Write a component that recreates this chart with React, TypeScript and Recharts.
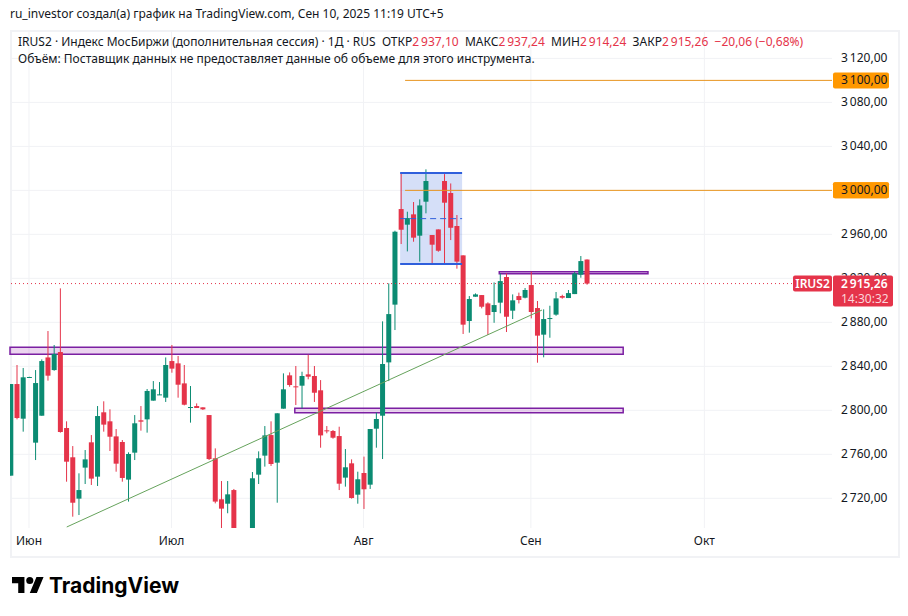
import { Bar, CartesianGrid, ComposedChart, ReferenceArea, ReferenceLine, XAxis, YAxis } from "recharts";

const RED = "#e5344a";
const GREEN = "#0b8b72";
const ORANGE = "#ff9800";
const PURPLE = "#7b1fa2";
const BLUE = "#2f5fdc";
const FONT = "'Noto Sans', sans-serif";

const opens = [
  2740.6, 2823.9, 2792.4, 2829.7, 2770.6, 2795.1, 2848.1, 2836.6, 2853.0, 2783.9,
  2757.3, 2719.7, 2747.9, 2770.9, 2739.7, 2798.2, 2790.0, 2776.3, 2771.2, 2737.0,
  2761.5, 2790.9, 2791.8, 2808.8, 2813.9, 2811.5, 2844.8, 2842.7, 2824.5, 2802.4,
  2803.9, 2802.7, 2795.7, 2756.4, 2719.1, 2715.1, 2727.5, 2686.0, 2670.0, 2688.0,
  2741.5, 2758.8, 2777.5, 2752.4, 2801.5, 2831.8, 2821.8, 2822.4, 2832.7, 2831.2,
  2818.2, 2781.8, 2781.2, 2776.6, 2738.8, 2751.8, 2723.3, 2743.0, 2732.4, 2783.3,
  2795.1, 2843.6, 2896.1, 2983.0, 2968.8, 2978.2, 2958.8, 2989.7, 2959.4, 2964.5,
  3008.5, 2997.6, 2967.6, 2940.9, 2881.2, 2903.3, 2904.8, 2897.2, 2889.4, 2897.9,
  2921.2, 2890.6, 2903.9, 2902.4, 2913.9, 2893.0, 2868.8, 2883.3, 2887.0, 2903.9,
  2902.1, 2905.7, 2923.3, 2937.1,
];
const highs = [
  2823.9, 2841.2, 2838.5, 2830.5, 2836.6, 2846.3, 2872.1, 2859.4, 2910.9, 2790.0,
  2767.5, 2742.7, 2763.9, 2777.5, 2803.9, 2808.2, 2800.9, 2783.0, 2773.0, 2761.8,
  2795.7, 2803.9, 2819.4, 2826.6, 2825.7, 2848.1, 2859.4, 2849.4, 2841.2, 2822.1,
  2806.3, 2802.7, 2795.7, 2765.4, 2735.7, 2735.7, 2728.5, 2690.0, 2688.0, 2743.9,
  2762.7, 2785.7, 2790.0, 2797.3, 2833.6, 2834.5, 2840.3, 2835.1, 2850.6, 2840.3,
  2827.5, 2785.7, 2782.1, 2785.1, 2764.8, 2755.4, 2744.2, 2757.9, 2783.0, 2797.9,
  2880.9, 2915.4, 2963.3, 3015.4, 2980.6, 2989.4, 2991.8, 3019.1, 2959.4, 2964.5,
  3014.8, 3006.3, 2977.6, 2940.9, 2903.9, 2906.3, 2904.8, 2898.2, 2916.3, 2924.5,
  2924.5, 2905.4, 2907.0, 2911.2, 2926.0, 2899.4, 2891.8, 2895.1, 2907.6, 2905.1,
  2909.4, 2926.0, 2940.3, 2937.24,
];
const lows = [
  2740.6, 2791.8, 2780.6, 2829.5, 2754.8, 2795.1, 2827.0, 2836.0, 2779.7, 2735.1,
  2703.3, 2704.8, 2733.0, 2732.1, 2731.2, 2780.6, 2763.0, 2744.2, 2735.1, 2717.0,
  2754.8, 2781.5, 2779.7, 2808.8, 2813.9, 2807.6, 2834.2, 2811.5, 2804.5, 2788.8,
  2802.1, 2800.3, 2754.8, 2715.4, 2688.2, 2706.4, 2679.0, 2668.0, 2664.0, 2685.0,
  2733.0, 2748.8, 2749.4, 2716.0, 2801.5, 2821.4, 2804.8, 2801.8, 2828.2, 2807.6,
  2766.0, 2779.1, 2774.2, 2727.5, 2730.6, 2719.7, 2715.1, 2710.3, 2728.5, 2766.0,
  2755.7, 2826.6, 2873.0, 2951.2, 2944.5, 2953.3, 2935.2, 2979.1, 2933.6, 2944.2,
  2933.6, 2954.8, 2928.8, 2869.4, 2870.6, 2903.3, 2892.7, 2868.5, 2879.6, 2888.2,
  2871.2, 2883.0, 2897.2, 2901.8, 2883.6, 2843.3, 2848.2, 2866.0, 2886.0, 2901.5,
  2902.1, 2905.7, 2920.6, 2914.24,
];
const closes = [
  2823.9, 2793.0, 2830.0, 2830.3, 2824.8, 2844.8, 2831.5, 2851.2, 2780.3, 2753.3,
  2716.0, 2727.5, 2755.4, 2737.9, 2794.8, 2787.0, 2776.0, 2751.5, 2738.5, 2760.3,
  2788.2, 2789.7, 2817.6, 2819.1, 2814.5, 2841.2, 2837.9, 2823.3, 2805.1, 2803.0,
  2802.1, 2800.9, 2755.7, 2717.0, 2710.6, 2723.6, 2688.0, 2672.0, 2683.0, 2738.2,
  2756.4, 2777.2, 2751.2, 2797.3, 2819.1, 2823.0, 2821.2, 2831.2, 2830.6, 2816.0,
  2777.2, 2781.2, 2775.1, 2733.3, 2748.2, 2720.3, 2737.3, 2728.2, 2783.0, 2792.1,
  2842.1, 2887.5, 2962.4, 2964.2, 2974.8, 2957.0, 2986.3, 3008.5, 2950.6, 2945.1,
  2988.8, 2966.0, 2935.2, 2877.9, 2901.2, 2905.4, 2894.2, 2886.6, 2895.7, 2917.5,
  2885.1, 2900.0, 2900.3, 2909.4, 2889.4, 2867.9, 2883.0, 2883.9, 2901.8, 2902.4,
  2906.6, 2924.5, 2935.7, 2915.26,
];

const monthTicks = [3, 26, 57, 84, 112];
const monthLabels = ["Июн", "Июл", "Авг", "Сен", "Окт"];
const priceGrid = [3120, 3080, 3040, 3000, 2960, 2920, 2880, 2840, 2800, 2760, 2720];
const lastPrice = 2915.26;
// tagged prices go last so their boxes sit above the plain labels
const priceTicks = [...priceGrid, 3100, 3000, lastPrice];

const candles = opens.map((open, i) => ({
  i,
  open,
  high: highs[i],
  low: lows[i],
  close: closes[i],
  range: [lows[i], highs[i]],
}));

const fmtPrice = (v: number) => {
  const s = v.toFixed(2).replace(".", ",");
  return s[0] + "\u2009" + s.slice(1);
};

function Candle(props: any) {
  const { x, y, width, height, payload } = props;
  const { open, high, low, close } = payload;
  const color = close >= open ? GREEN : RED;
  const k = height / (high - low);
  const top = y + (high - Math.max(open, close)) * k;
  const bodyH = Math.max(Math.abs(open - close) * k, 1);
  const mid = x + width / 2;
  return (
    <g>
      <line x1={mid} x2={mid} y1={y} y2={y + height} stroke={color} strokeWidth={1} />
      <rect x={x} y={top} width={width} height={bodyH} fill={color} />
    </g>
  );
}

function PriceTick(props: any) {
  const { x, y, payload } = props;
  const v = payload.value;
  const label = { fontFamily: FONT, fontSize: 12 };
  if (v === lastPrice) {
    return (
      <g>
        <rect x={x - 39} y={y - 8} width={39} height={16} rx={2} fill={RED} />
        <text x={x - 19.5} y={y + 4} textAnchor="middle" fill="#fff" fontWeight={600} {...label}>IRUS2</text>
        <rect x={x + 1} y={y - 8} width={60} height={31} rx={2} fill={RED} />
        <text x={x + 9} y={y + 4} fill="#fff" fontWeight={600} {...label}>{fmtPrice(v)}</text>
        <text x={x + 9} y={y + 19} fill="#fbd5da" {...label}>14:30:32</text>
      </g>
    );
  }
  if (v === 3100 || v === 3000) {
    return (
      <g>
        <rect x={x + 1} y={y - 8} width={56} height={16} rx={2} fill={ORANGE} />
        <text x={x + 9} y={y + 4} fill="#131722" {...label}>{fmtPrice(v)}</text>
      </g>
    );
  }
  return <text x={x + 9} y={y + 4} fill="#131722" {...label}>{fmtPrice(v)}</text>;
}

export default function App() {
  const val = { color: RED };
  return (
    <div style={{ position: "absolute", left: 0, top: 0, width: 908, height: 616, background: "#fff", fontFamily: FONT, color: "#131722", overflow: "hidden" }}>
      <div style={{ position: "absolute", left: 10, top: 30, width: 886, height: 524, border: "2px solid #f1f2f5" }} />
      <ComposedChart
        width={908}
        height={616}
        data={candles}
        margin={{ top: 32, right: 0, bottom: 61, left: 10 }}
        style={{ position: "absolute", left: 0, top: 0 }}
      >
        <CartesianGrid stroke="#f1f2f5" horizontalValues={priceGrid} verticalValues={monthTicks} />
        <XAxis
          dataKey="i"
          type="number"
          domain={[-0.065, 132.6]}
          allowDataOverflow
          ticks={monthTicks}
          interval={0}
          tickFormatter={(v) => monthLabels[monthTicks.indexOf(v)]}
          axisLine={false}
          tickLine={false}
          tickSize={0}
          tickMargin={8}
          height={27}
          tick={{ fill: "#131722", fontSize: 12, fontFamily: FONT }}
        />
        <YAxis
          orientation="right"
          type="number"
          domain={[2693, 3144]}
          allowDataOverflow
          ticks={priceTicks}
          interval={0}
          axisLine={false}
          tickLine={false}
          tickSize={0}
          tickMargin={0}
          width={76}
          tick={PriceTick}
        />
        <ReferenceArea x1={62.9} x2={72.9} y1={2933} y2={3015.7} fill={BLUE} fillOpacity={0.2} />
        <Bar dataKey="range" barSize={5} shape={Candle} isAnimationActive={false} />
        <ReferenceLine segment={[{ x: 62.9, y: 3015.7 }, { x: 72.9, y: 3015.7 }]} stroke={BLUE} strokeWidth={2} />
        <ReferenceLine segment={[{ x: 62.9, y: 2933 }, { x: 72.9, y: 2933 }]} stroke={BLUE} strokeWidth={2} />
        <ReferenceLine segment={[{ x: 62.9, y: 2974.3 }, { x: 72.9, y: 2974.3 }]} stroke={BLUE} strokeDasharray="6 4" />
        <ReferenceLine segment={[{ x: 63.7, y: 3100 }, { x: 132.6, y: 3100 }]} stroke="#e8951f" />
        <ReferenceLine segment={[{ x: 63.7, y: 3000 }, { x: 132.6, y: 3000 }]} stroke="#e8951f" />
        <ReferenceLine segment={[{ x: 9.09, y: 2693.9 }, { x: 85.8, y: 2891.2 }]} stroke="#66a35c" />
        <ReferenceLine y={lastPrice} stroke={RED} strokeDasharray="1 3" />
        <ReferenceArea x1={-0.065} x2={98.9} y1={2850.9} y2={2857.3} fill="#9c27b0" fillOpacity={0.2} stroke={PURPLE} strokeWidth={1.5} />
        <ReferenceArea x1={45.9} x2={98.9} y1={2797.8} y2={2801.8} fill="#9c27b0" fillOpacity={0.2} stroke={PURPLE} strokeWidth={1.5} />
        <ReferenceArea x1={78.9} x2={102.9} y1={2924.2} y2={2926} fill="#9c27b0" fillOpacity={0.2} stroke={PURPLE} strokeWidth={1.5} />
      </ComposedChart>
      <div style={{ position: "absolute", left: 10, top: 6, fontSize: 12, lineHeight: "16px", whiteSpace: "nowrap" }}>
        ru_investor создал(а) график на TradingView.com, Сен 10, 2025 11:19 UTC+5
      </div>
      <div style={{ position: "absolute", left: 18, top: 34, fontSize: 12, lineHeight: "16px", whiteSpace: "nowrap" }}>
        IRUS2 · Индекс МосБиржи (дополнительная сессия) · 1Д · RUS&nbsp; ОТКР<span style={val}>2&#8201;937,10</span>&nbsp; МАКС<span style={val}>2&#8201;937,24</span>&nbsp; МИН<span style={val}>2&#8201;914,24</span>&nbsp; ЗАКР<span style={val}>2&#8201;915,26</span>&nbsp; <span style={val}>−20,06 (−0,68%)</span>
      </div>
      <div style={{ position: "absolute", left: 18, top: 51, fontSize: 12, lineHeight: "16px", whiteSpace: "nowrap" }}>
        Объём: Поставщик данных не предоставляет данные об объеме для этого инструмента.
      </div>
      <svg style={{ position: "absolute", left: 12, top: 575 }} width={32} height={20} viewBox="0 0 36 22">
        <path d="M14 20H7V9H0V2h14v18zM28 20h-8l7.5-18h8L28 20z" fill="#000" />
        <circle cx={20} cy={6} r={4} fill="#000" />
      </svg>
      <div style={{ position: "absolute", left: 49, top: 572, fontFamily: "Inter, sans-serif", fontWeight: 700, fontSize: 21, lineHeight: "28px", color: "#000", whiteSpace: "nowrap" }}>
        TradingView
      </div>
    </div>
  );
}
